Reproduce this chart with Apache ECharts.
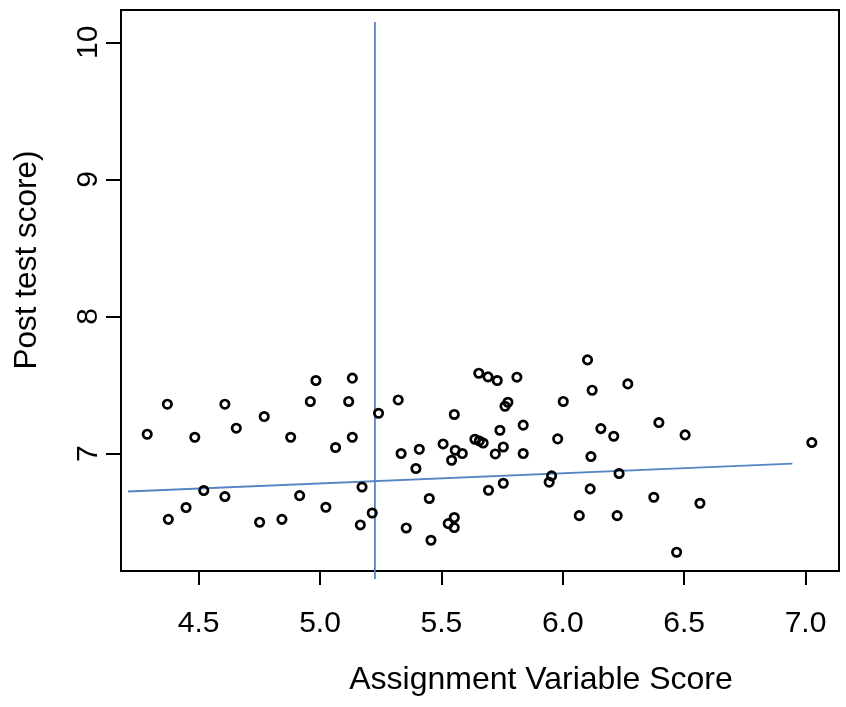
<!DOCTYPE html>
<html>
<head>
<meta charset="utf-8">
<script src="https://cdn.jsdelivr.net/npm/echarts@6/dist/echarts.min.js"></script>
<style>
html,body{margin:0;padding:0;background:#fff;}
#chart{width:846px;height:707px;}
</style>
</head>
<body>
<div id="chart"></div>
<script>
// Scatter data: Assignment Variable Score (x) vs Post test score (y)
var assignX = [4.288,4.371,4.375,4.448,4.484,4.521,4.608,4.608,4.655,4.751,4.770,4.843,4.879,4.916,4.960,4.983,5.024,5.064,5.118,5.133,5.133,5.173,5.166,5.215,5.241,5.322,5.334,5.355,5.409,5.395,5.450,5.457,5.507,5.553,5.557,5.542,5.586,5.528,5.553,5.553,
  5.654,5.692,5.730,5.811,6.102,6.121,6.268,5.774,5.762,6.002,5.741,5.837,5.638,5.656,5.672,5.755,5.722,5.837,5.979,6.157,6.210,6.396,6.504,7.026,6.116,6.232,5.954,5.944,5.755,5.694,6.113,6.375,6.565,6.068,6.224,6.469];
var postY = [7.141,7.360,6.520,6.606,7.119,6.730,7.360,6.686,7.185,6.499,7.270,6.520,7.119,6.693,7.380,7.533,6.608,7.044,7.380,7.550,7.119,6.756,6.479,6.566,7.294,7.391,7.000,6.457,7.031,6.891,6.672,6.367,7.070,7.285,7.024,6.951,7.000,6.489,6.533,6.460,
  7.586,7.559,7.533,7.557,7.683,7.462,7.508,7.374,7.345,7.380,7.170,7.207,7.104,7.092,7.077,7.048,6.997,7.000,7.107,7.182,7.126,7.226,7.136,7.080,6.978,6.854,6.837,6.791,6.783,6.732,6.742,6.681,6.637,6.547,6.547,6.280];

// Fitted line and cutoff line
var fitX = [4.209, 6.946];
var fitY = [6.723, 6.927];
var cutX = [5.226, 5.226];
var cutY = [6.085, 10.148];

// Tick labels
var xTicks = [4.5, 5.0, 5.5, 6.0, 6.5, 7.0];
var yTicks = [7, 8, 9, 10];

var xTitle = 'Assignment Variable Score';
var yTitle = 'Post test score)';

function zip(a, b) { return a.map(function (v, i) { return [v, b[i]]; }); }

var chart = echarts.init(document.getElementById('chart'), null, {renderer: 'canvas'});
var font = '"Liberation Sans", Arial, Helvetica, sans-serif';
var lineBlue = '#5585c5';

chart.setOption({
  animation: false,
  backgroundColor: '#ffffff',
  grid: {
    left: 121, top: 10, width: 718, height: 561,
    show: true, borderColor: '#000', borderWidth: 2, backgroundColor: 'transparent'
  },
  xAxis: {
    type: 'value', min: 4.18, max: 7.138,
    axisLine: {show: true, onZero: false, lineStyle: {color: '#000', width: 2}},
    axisTick: {show: true, length: 14, lineStyle: {color: '#000', width: 2}, customValues: xTicks},
    axisLabel: {
      show: true, customValues: xTicks, margin: 38,
      formatter: function (v) { return v.toFixed(1); },
      color: '#000', fontSize: 30, fontFamily: font, lineHeight: 30
    },
    splitLine: {show: false}
  },
  yAxis: {
    type: 'value', min: 6.143, max: 10.236,
    axisLine: {show: true, onZero: false, lineStyle: {color: '#000', width: 2}},
    axisTick: {show: true, length: 15, lineStyle: {color: '#000', width: 2}, customValues: yTicks},
    axisLabel: {
      show: true, customValues: yTicks, margin: 17, rotate: 90,
      formatter: function (v) { return String(Math.round(v)); },
      color: '#000', fontSize: 30, fontFamily: font, lineHeight: 30
    },
    splitLine: {show: false}
  },
  graphic: [
    {
      type: 'text', x: 541, y: 680,
      style: {text: xTitle, fontSize: 32, fontFamily: font, fill: '#000', align: 'center', verticalAlign: 'middle'}
    },
    {
      type: 'text', x: 27, y: 260, rotation: Math.PI / 2,
      style: {text: yTitle, fontSize: 31.5, fontFamily: font, fill: '#000', align: 'center', verticalAlign: 'middle'}
    }
  ],
  series: [
    {
      type: 'line', data: zip(fitX, fitY), symbol: 'none', clip: false,
      lineStyle: {color: lineBlue, width: 1.8}, z: 1, silent: true
    },
    {
      type: 'line', data: zip(cutX, cutY), symbol: 'none', clip: false,
      lineStyle: {color: lineBlue, width: 1.8}, z: 1, silent: true
    },
    {
      type: 'scatter', data: zip(assignX, postY),
      symbol: 'circle', symbolSize: 8.4,
      itemStyle: {color: 'rgba(0,0,0,0)', borderColor: '#000', borderWidth: 2.7, opacity: 1},
      z: 2
    }
  ]
});
</script>
</body>
</html>
